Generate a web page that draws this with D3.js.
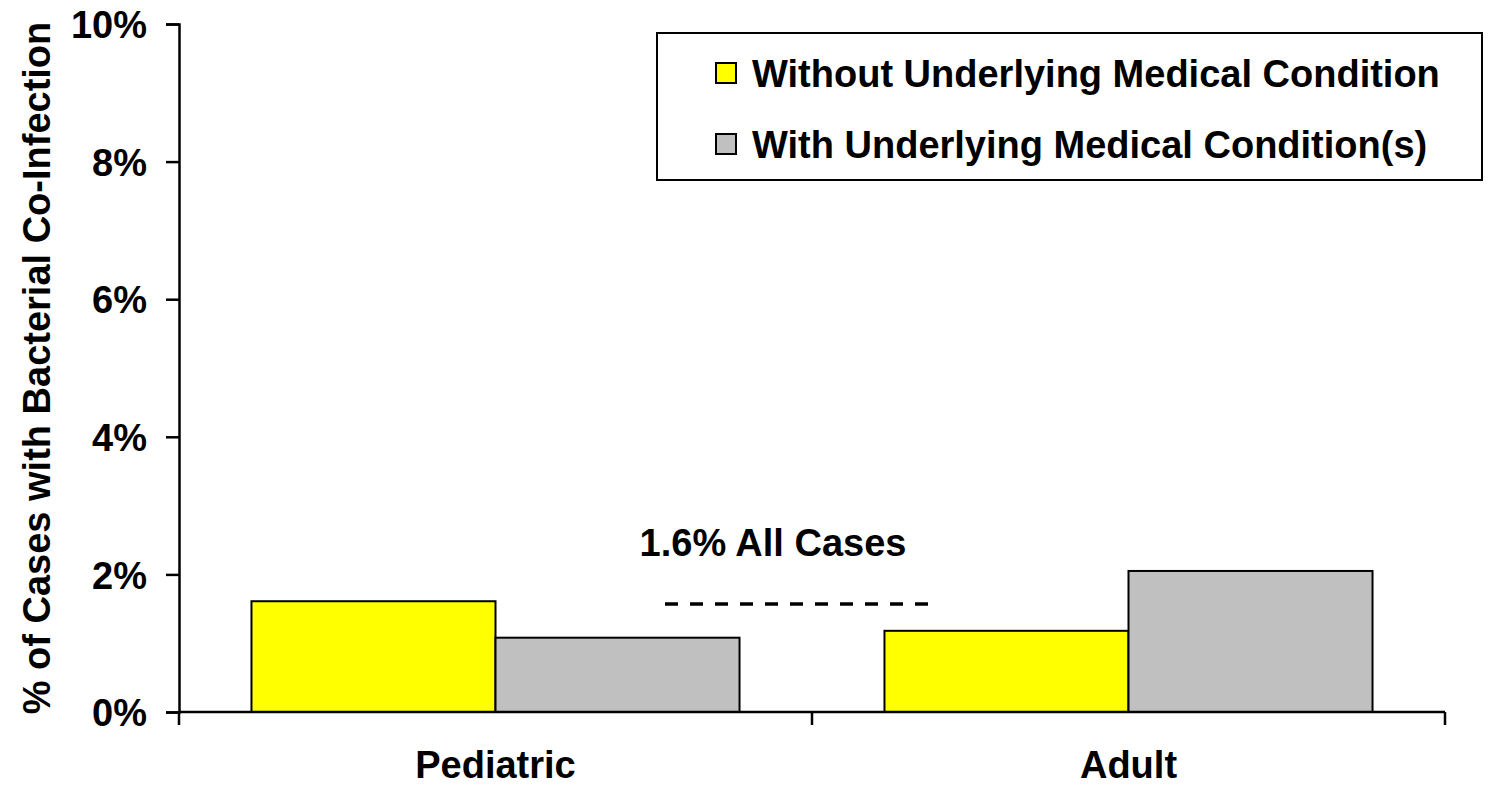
<!DOCTYPE html>
<html>
<head>
<meta charset="utf-8">
<script src="https://cdn.jsdelivr.net/npm/d3@7"></script>
<style>
  html, body { margin: 0; padding: 0; background: #fff; }
  svg text { font-family: "Liberation Sans", Arial, sans-serif; font-weight: bold; fill: #000; }
</style>
</head>
<body>
<svg id="chart" width="1491" height="786"></svg>
<script>
const categories = ["Pediatric", "Adult"];
const seriesNames = ["Without Underlying Medical Condition", "With Underlying Medical Condition(s)"];
const withoutCondition = [1.61, 1.18];
const withCondition = [1.08, 2.05];
const seriesColors = ["#ffff00", "#c0c0c0"];
const yTicks = [0, 2, 4, 6, 8, 10];
const allCasesValue = 1.6;
const allCasesLabel = "1.6% All Cases";
const yTitle = "% of Cases with Bacterial Co-Infection";

const svg = d3.select("#chart");
const fontSize = 38;

const y = d3.scaleLinear().domain([0, 10]).range([712, 24]);
const x0 = d3.scaleBand().domain(categories).range([179, 1445]).paddingInner(0).paddingOuter(0);
const x1 = d3.scaleBand().domain(seriesNames).range([0, x0.bandwidth()]).paddingInner(0).paddingOuter(0.297);

const data = categories.map((c, i) => ({cat: c, vals: [withoutCondition[i], withCondition[i]]}));

// bars
const g = svg.append("g");
data.forEach(d => {
  d.vals.forEach((v, j) => {
    g.append("rect")
      .attr("x", x0(d.cat) + x1(seriesNames[j]))
      .attr("y", y(v))
      .attr("width", x1.bandwidth())
      .attr("height", y(0) - y(v))
      .attr("fill", seriesColors[j])
      .attr("stroke", "#000")
      .attr("stroke-width", 2);
  });
});

// y axis
const yAxis = d3.axisLeft(y).tickValues(yTicks).tickFormat(d => d + "%").tickSize(13).tickPadding(19);
const ya = svg.append("g").attr("transform", "translate(179,0)").call(yAxis);
ya.select(".domain").attr("stroke", "#000").attr("stroke-width", 2.5);
ya.selectAll(".tick line").attr("stroke", "#000").attr("stroke-width", 2.5);
ya.selectAll(".tick text").style("font-size", fontSize + "px").attr("font-family", null).attr("dy", "0.36em");

// x axis
const xa = svg.append("g").attr("transform", "translate(0,712)");
xa.append("line").attr("x1", 179).attr("x2", 1445).attr("y1", 0).attr("y2", 0).attr("stroke", "#000").attr("stroke-width", 2.5);
const xTickPos = [x0.range()[0]].concat(categories.map(c => x0(c) + x0.bandwidth()));
xa.selectAll("line.xt").data(xTickPos).enter().append("line").attr("class", "xt")
  .attr("x1", d => d).attr("x2", d => d).attr("y1", 0).attr("y2", 13)
  .attr("stroke", "#000").attr("stroke-width", 2.5);
xa.selectAll("text").data(categories).enter().append("text")
  .attr("x", d => x0(d) + x0.bandwidth() / 2)
  .attr("y", 66)
  .attr("text-anchor", "middle")
  .style("font-size", fontSize + "px")
  .text(d => d);

// y title
svg.append("text")
  .attr("transform", "translate(50," + ((y(0) + y(10)) / 2) + ") rotate(-90)")
  .attr("text-anchor", "middle")
  .style("font-size", fontSize + "px")
  .text(yTitle);

// all cases reference line
const refX = x0("Adult");
svg.append("line")
  .attr("x1", refX - 147).attr("x2", refX + 121)
  .attr("y1", y(allCasesValue) + 2).attr("y2", y(allCasesValue) + 2)
  .attr("stroke", "#000").attr("stroke-width", 3.5)
  .attr("stroke-dasharray", "13,12");
svg.append("text")
  .attr("x", refX - 39)
  .attr("y", 556)
  .attr("text-anchor", "middle")
  .style("font-size", fontSize + "px")
  .text(allCasesLabel);

// legend
const lg = svg.append("g");
lg.append("rect").attr("x", 657).attr("y", 33).attr("width", 825).attr("height", 147)
  .attr("fill", "#fff").attr("stroke", "#000").attr("stroke-width", 2);
seriesNames.forEach((s, i) => {
  const cy = 73 + i * 71;
  lg.append("rect").attr("x", 716).attr("y", cy - 10).attr("width", 20).attr("height", 20)
    .attr("fill", seriesColors[i]).attr("stroke", "#000").attr("stroke-width", 2);
  lg.append("text").attr("x", 752).attr("y", cy).attr("dy", "0.36em")
    .style("font-size", fontSize + "px").text(s);
});
</script>
</body>
</html>
